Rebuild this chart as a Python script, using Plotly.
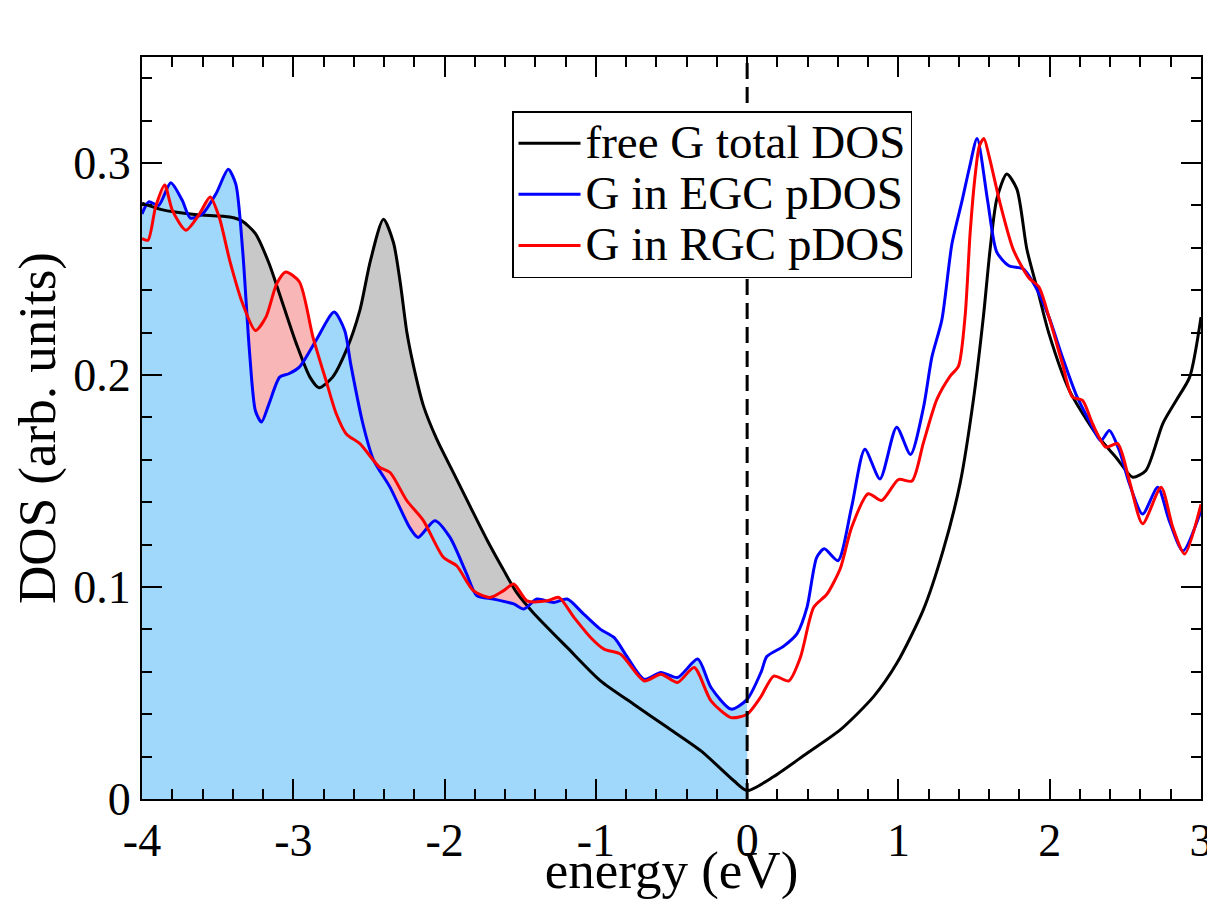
import plotly.graph_objects as go

# ---- data ----
black_E = [-4.0, -3.87, -3.65, -3.42, -3.34, -3.25, -3.16, -3.07, -2.98, -2.89, -2.83, -2.74,
           -2.65, -2.56, -2.49, -2.404, -2.338, -2.293, -2.249, -2.205, -2.139, -2.051, -1.941, -1.831,
           -1.72, -1.61, -1.522, -1.414, -1.19, -0.969, -0.75, -0.526, -0.305, -0.086, 0.0, 0.176, 0.396,
           0.617, 0.837, 0.99, 1.165, 1.297, 1.408, 1.496, 1.562, 1.606, 1.65, 1.716, 1.783, 1.849,
           1.92, 1.995, 2.128, 2.305, 2.44, 2.548, 2.636, 2.747, 2.836, 2.925, 3.0]
black_D = [0.281, 0.278, 0.2757, 0.2745, 0.2727, 0.2667, 0.2526, 0.2337, 0.2148, 0.199, 0.194, 0.199,
           0.2116, 0.2305, 0.254, 0.2735, 0.2625, 0.2436, 0.220, 0.2042, 0.1853, 0.1696, 0.1538, 0.138,
           0.1223, 0.108, 0.0972, 0.0879, 0.0715, 0.0557, 0.0447, 0.0337, 0.0227, 0.0085, 0.004, 0.0106, 0.0216,
           0.0327, 0.0484, 0.0641, 0.0893, 0.1176, 0.149, 0.1885, 0.2278, 0.2593, 0.283, 0.2948, 0.2877, 0.2593,
           0.240, 0.2195, 0.193, 0.1723, 0.161, 0.1518, 0.155, 0.177, 0.188, 0.199, 0.2273]

blue_E = [-4.0, -3.955, -3.89, -3.81, -3.735, -3.68, -3.60, -3.51, -3.43, -3.38, -3.335, -3.29,
          -3.25, -3.21, -3.16, -3.09, -3.03, -2.96, -2.85, -2.73, -2.66, -2.62, -2.54, -2.47, -2.36,
          -2.23, -2.175, -2.064, -1.964, -1.853, -1.787, -1.676, -1.543, -1.476, -1.39, -1.28, -1.19,
          -1.08, -0.969, -0.88, -0.79, -0.68, -0.57, -0.46, -0.327, -0.239, -0.106, 0.0, 0.093, 0.13,
          0.24, 0.33, 0.396, 0.46, 0.51, 0.60, 0.69, 0.778, 0.878, 0.988, 1.08, 1.166, 1.221, 1.287,
          1.354, 1.42, 1.47, 1.52, 1.59, 1.65, 1.73, 1.826, 1.907, 1.995, 2.084, 2.173, 2.26, 2.338, 2.394,
          2.46, 2.527, 2.614, 2.714, 2.79, 2.88, 3.0]
blue_D = [0.276, 0.2817, 0.280, 0.2907, 0.2825, 0.274, 0.276, 0.2856, 0.297, 0.290, 0.259, 0.2116,
          0.183, 0.1778, 0.1865, 0.199, 0.2006, 0.2037, 0.2163, 0.2297, 0.221, 0.205, 0.177, 0.160, 0.147,
          0.128, 0.1234, 0.1313, 0.1234, 0.106, 0.0959, 0.0943, 0.092, 0.0896, 0.0943, 0.0927, 0.0943,
          0.0872, 0.080, 0.0762, 0.0667, 0.0565, 0.0597, 0.0573, 0.066, 0.0526, 0.0424, 0.047, 0.060, 0.0672,
          0.072, 0.078, 0.0905, 0.114, 0.118, 0.1124, 0.1376, 0.165, 0.151, 0.1754, 0.1625, 0.1848, 0.2084, 0.226,
          0.262, 0.282, 0.298, 0.3116, 0.282, 0.258, 0.2515, 0.250, 0.2415, 0.2273, 0.2084, 0.191, 0.1786, 0.169,
          0.1738, 0.1644, 0.1487, 0.1344, 0.147, 0.1313, 0.117, 0.136]

red_E = [-4.0, -3.96, -3.91, -3.85, -3.80, -3.71, -3.62, -3.55, -3.49, -3.42, -3.335, -3.25,
         -3.18, -3.11, -3.05, -2.96, -2.87, -2.78, -2.716, -2.65, -2.56, -2.43, -2.36, -2.25, -2.14,
         -2.008, -1.92, -1.81, -1.70, -1.61, -1.543, -1.455, -1.32, -1.245, -1.145, -1.035, -0.946,
         -0.836, -0.68, -0.57, -0.46, -0.35, -0.239, -0.106, 0.0, 0.088, 0.176, 0.275, 0.352, 0.44,
         0.528, 0.617, 0.69, 0.80, 0.889, 1.0, 1.089, 1.165, 1.254, 1.342, 1.397, 1.441, 1.474, 1.507,
         1.535, 1.565, 1.60, 1.672, 1.76, 1.86, 1.929, 1.995, 2.084, 2.15, 2.217, 2.283, 2.371, 2.449,
         2.527, 2.614, 2.736, 2.814, 2.892, 3.0]
red_D = [0.2644, 0.2636, 0.2793, 0.2896, 0.2778, 0.2683, 0.276, 0.284, 0.2745, 0.254, 0.2337, 0.221,
         0.2274, 0.243, 0.2486, 0.244, 0.2179, 0.1965, 0.1817, 0.1722, 0.1676, 0.1565, 0.154, 0.1408, 0.1313,
         0.114, 0.110, 0.0983, 0.0951, 0.0983, 0.1014, 0.0935, 0.0935, 0.0951, 0.0857, 0.0762, 0.0707,
         0.0683, 0.0557, 0.0589, 0.055, 0.062, 0.0463, 0.0384, 0.040, 0.0479, 0.058, 0.0557, 0.0668, 0.0904,
         0.0967, 0.109, 0.128, 0.144, 0.1408, 0.1507, 0.150, 0.168, 0.1885, 0.1995, 0.2042, 0.228, 0.267, 0.294,
         0.308, 0.3116, 0.303, 0.281, 0.259, 0.246, 0.2415, 0.2273, 0.2053, 0.1896, 0.188, 0.177, 0.166, 0.1676,
         0.150, 0.1298, 0.147, 0.128, 0.1156, 0.139]

names = ["free G total DOS", "G in EGC pDOS", "G in RGC pDOS"]
x_ticks = [-4, -3, -2, -1, 0, 1, 2, 3]
y_ticks = [0, 0.1, 0.2, 0.3]
y_tick_text = ["0", "0.1", "0.2", "0.3"]

FONT = "Liberation Serif, Times New Roman, serif"
SMOOTH = 0.7

def occupied(E, D):
    xs = [e for e in E if e <= 0]
    ys = [d for e, d in zip(E, D) if e <= 0]
    return xs, ys

fig = go.Figure()

# filled areas for occupied states (E <= 0): gray under black, pink under red, light blue under blue
for (E, D, col) in [(black_E, black_D, "#c8c8c8"),
                    (red_E, red_D, "#f9b6b6"),
                    (blue_E, blue_D, "#9fd8fa")]:
    xs, ys = occupied(E, D)
    fig.add_trace(go.Scatter(x=xs, y=ys, mode="lines", fill="tozeroy", fillcolor=col,
                             line=dict(width=0, shape="spline", smoothing=SMOOTH),
                             showlegend=False, hoverinfo="skip"))

for (E, D, col, nm) in [(black_E, black_D, "black", names[0]),
                        (blue_E, blue_D, "#0000ff", names[1]),
                        (red_E, red_D, "#ff0000", names[2])]:
    fig.add_trace(go.Scatter(x=E, y=D, mode="lines",
                             name='<span style="font-size:47px">' + nm + '</span>',
                             line=dict(color=col, width=3, shape="spline", smoothing=SMOOTH)))

fig.add_vline(x=0, line=dict(color="black", width=3, dash="16px,8px"))

axis_common = dict(showline=True, linecolor="black", linewidth=2, mirror="allticks",
                   ticks="inside", ticklen=20, tickwidth=2, tickcolor="black",
                   showgrid=False, zeroline=False, automargin=False,
                   tickfont=dict(family=FONT, size=46, color="black"))

fig.update_xaxes(range=[-4, 3], tickvals=x_ticks, ticktext=[str(v) for v in x_ticks],
                 minor=dict(ticks="inside", ticklen=10, tickwidth=2, dtick=0.2, tickcolor="black"),
                 title=dict(text="energy (eV)", font=dict(family=FONT, size=53, color="black"), standoff=2),
                 **axis_common)
fig.update_yaxes(range=[0, 0.35], tickvals=y_ticks, ticktext=y_tick_text,
                 minor=dict(ticks="inside", ticklen=10, tickwidth=2, dtick=0.02, tickcolor="black"),
                 title=dict(text="DOS (arb. units)", font=dict(family=FONT, size=53, color="black"), standoff=6),
                 **axis_common)

# the page adds an 8px body margin (left/top), so the figure is 8px smaller and shifted
fig.update_layout(
    width=1207, height=892,
    margin=dict(l=134, r=14, t=49, b=101),
    paper_bgcolor="white", plot_bgcolor="white",
    legend=dict(x=0.3494, y=0.927, xanchor="left", yanchor="top",
                bgcolor="white", bordercolor="black", borderwidth=1.5,
                font=dict(family=FONT, size=37, color="black"),
                tracegroupgap=0, itemwidth=62),
    showlegend=True,
)

fig.write_html("out.html")
